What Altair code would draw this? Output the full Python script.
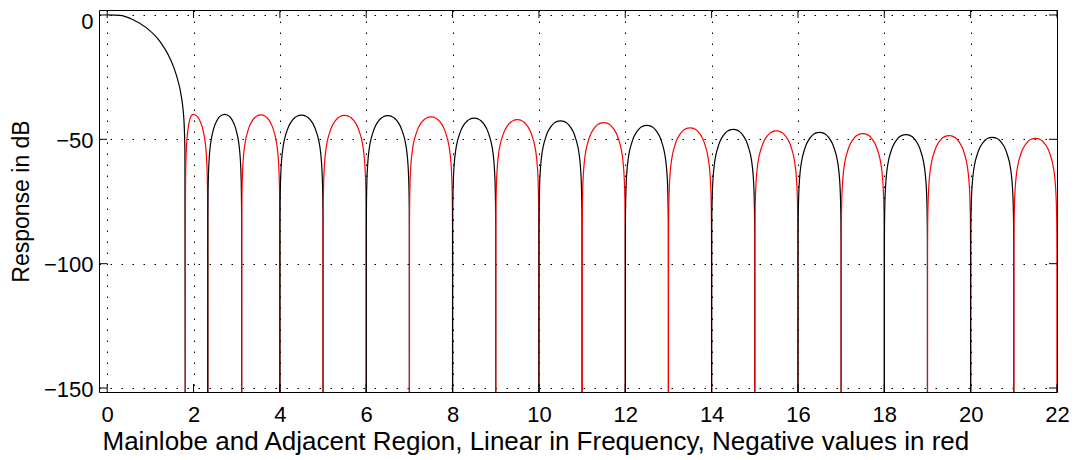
import altair as alt
import pandas as pd

# ---- values ----
# Mainlobe (black), frequency vs dB
main_x = [0.0, 0.29, 0.6, 0.91, 1.22, 1.45, 1.60, 1.72, 1.76, 1.785, 1.80, 1.81]
main_db = [0.0, -0.13, -1.9, -5.2, -10.6, -17.3, -24.1, -33.0, -38.5, -45.0, -55.0, -200.0]

# Sidelobes: left null, peak position, right null, peak level (dB)
lobe_start = [1.81, 2.33, 3.115, 4, 5, 6, 7, 8, 9, 10, 11, 12, 13, 14, 15, 16, 17, 18, 19, 20, 21]
lobe_peak_x = [1.99, 2.72, 3.56, 4.5, 5.5, 6.5, 7.5, 8.5, 9.5, 10.5, 11.5, 12.5, 13.5, 14.5,
               15.5, 16.5, 17.5, 18.5, 19.5, 20.5, 21.5]
lobe_end = [2.33, 3.115, 4, 5, 6, 7, 8, 9, 10, 11, 12, 13, 14, 15, 16, 17, 18, 19, 20, 21, 22]
lobe_peak_db = [-40.0, -40.0, -40.2, -40.3, -40.4, -40.5, -41.0, -41.5, -42.1, -42.6, -43.3,
                -44.4, -45.4, -46.0, -46.6, -47.2, -47.7, -48.1, -48.5, -49.2, -49.6]

# Shape of one sidelobe edge-to-peak
# (fraction of the half lobe from the null, dB below the peak)
prof_t = [0.0, 0.002, 0.005, 0.01, 0.02, 0.04, 0.07, 0.1, 0.15, 0.2, 0.25, 0.3, 0.35, 0.4, 0.45, 0.5]
prof_db = [-160.0, -44.0, -36.0, -30.0, -24.0, -18.0, -13.2, -10.2, -7.0, -4.6, -3.0, -1.8,
           -0.9, -0.4, -0.1, 0.0]

x_ticks = [0, 2, 4, 6, 8, 10, 12, 14, 16, 18, 20, 22]
y_ticks = [0, -50, -100, -150]

# ---- build table ----
rows = []
for i, (xv, yv) in enumerate(zip(main_x, main_db)):
    rows.append({"f": xv, "db": yv, "lobe": 0, "sign": "pos", "i": i})
for k in range(len(lobe_start)):
    s, p, e, pk = lobe_start[k], lobe_peak_x[k], lobe_end[k], lobe_peak_db[k]
    sign = "neg" if (k % 2 == 0) else "pos"
    n = 0
    for t, off in zip(prof_t, prof_db):
        rows.append({"f": s + (t / 0.5) * (p - s), "db": pk + off, "lobe": k + 1, "sign": sign, "i": n})
        n += 1
    for t, off in zip(reversed(prof_t[:-1]), reversed(prof_db[:-1])):
        rows.append({"f": e - (t / 0.5) * (e - p), "db": pk + off, "lobe": k + 1, "sign": sign, "i": n})
        n += 1
df = pd.DataFrame(rows)
xt = pd.DataFrame({"v": x_ticks})
yt = pd.DataFrame({"v": y_ticks})

W, H = 958, 382
FONT = "Liberation Sans"

xs = alt.Scale(domain=[-0.19, 22], nice=False, zero=False)
ys = alt.Scale(domain=[-151.6, 2], nice=False, zero=False)
xaxis = alt.Axis(values=x_ticks, labelPadding=12, labelFontSize=22, titleFontSize=26,
                 titleY=57, titleX=3, titleAlign="left", titleBaseline="alphabetic",
                 labelFlush=False)
yaxis = alt.Axis(values=y_ticks, labelPadding=6, labelFontSize=22, titleFontSize=23,
                 titleX=-66, titleBaseline="bottom", labelFlush=False,
                 labelOffset={"condition": {"test": "datum.value === 0", "value": 7}, "value": 1})
XT = "Mainlobe and Adjacent Region, Linear in Frequency, Negative values in red"
YT = "Response in dB"

def X(field):
    return alt.X(field, type="quantitative", scale=xs, axis=xaxis, title=XT)

def Y(field):
    return alt.Y(field, type="quantitative", scale=ys, axis=yaxis, title=YT)

lines = alt.Chart(df).mark_line(strokeWidth=1.2, clip=True, interpolate="monotone").encode(
    x=X("f"), y=Y("db"),
    color=alt.Color("sign:N", scale=alt.Scale(domain=["pos", "neg"], range=["#000000", "#ff0000"]), legend=None),
    detail="lobe:N",
    order="i:Q",
)

tk = 8
top_ticks = alt.Chart(xt).mark_rule(color="black", strokeWidth=1).encode(x=X("v"), y=alt.value(0), y2=alt.value(tk))
bot_ticks = alt.Chart(xt).mark_rule(color="black", strokeWidth=1).encode(x=X("v"), y=alt.value(H), y2=alt.value(H - tk))
left_ticks = alt.Chart(yt).mark_rule(color="black", strokeWidth=1).encode(y=Y("v"), x=alt.value(0), x2=alt.value(tk))
right_ticks = alt.Chart(yt).mark_rule(color="black", strokeWidth=1).encode(y=Y("v"), x=alt.value(W), x2=alt.value(W - tk))

chart = alt.layer(lines, top_ticks, bot_ticks, left_ticks, right_ticks).properties(
    width=W, height=H,
    autosize=alt.AutoSizeParams(type="none"),
    padding={"left": 91, "top": 2, "right": 13, "bottom": 66},
    background="white",
).configure_view(
    stroke="black", strokeWidth=1
).configure_axis(
    labelFont=FONT, titleFont=FONT, labelColor="black", titleColor="black",
    titleFontWeight="normal",
    grid=True, gridColor="black", gridDash=[1.5, 9.5], gridWidth=1, gridOpacity=1,
    domain=False, ticks=False, tickSize=0,
)

chart.save("out.html", embed_options={"renderer": "svg", "actions": False})
